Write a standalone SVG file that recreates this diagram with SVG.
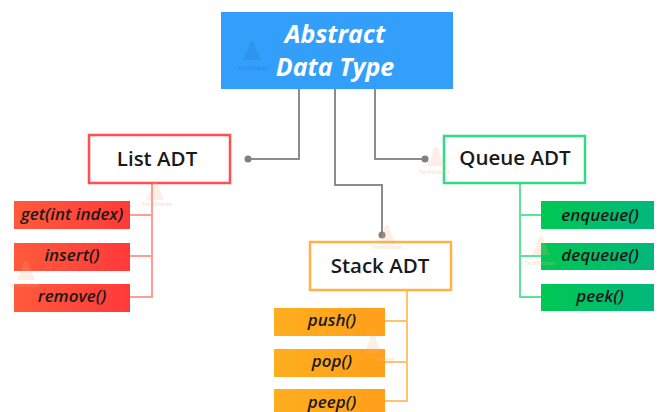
<svg xmlns="http://www.w3.org/2000/svg" width="659" height="412" viewBox="0 0 659 412">
<style>
text{font-family:"Open Sans","Noto Sans","Liberation Sans",sans-serif;text-anchor:middle}
.t{font-size:20.5px;font-weight:600;fill:#1a1a1a}
.m{font-size:17px;font-weight:600;font-style:italic;fill:#1a1a1a}
.h{font-size:25px;font-weight:700;font-style:italic;fill:#fff}
.w{font-size:5.5px;font-weight:600;fill:#f5b183;opacity:.4}
.i{fill:#f5b183;opacity:.2}
.b{fill:#fff;stroke-width:2.5}
.g{fill:none;stroke:#8c8c8c;stroke-width:2}
.l{fill:none;stroke-width:2}
</style>
<defs>
<linearGradient id="r"><stop offset="0" stop-color="#ff5a3c"/><stop offset="1" stop-color="#ff3a3a"/></linearGradient>
<linearGradient id="o"><stop offset="0" stop-color="#ffae1f"/><stop offset="1" stop-color="#ff9f1a"/></linearGradient>
<linearGradient id="v"><stop offset="0" stop-color="#00c853"/><stop offset="1" stop-color="#00b87c"/></linearGradient>
<path id="mark" d="M0 -11C3 -11 3 -6 4 -3L9 8H-9L-4 -3C-3 -6 -3 -11 0 -11Z"/>
</defs>
<g id="connectors">
<path class="g" d="M299 89V159H248"/><circle cx="248" cy="159" r="3.5" fill="#808080"/>
<path class="g" d="M335 89V185H382V235"/><circle cx="382" cy="235" r="3.5" fill="#808080"/>
<path class="g" d="M375 89V159H425"/><circle cx="425" cy="159" r="3.5" fill="#808080"/>
<path class="l" stroke="#ff9c94" d="M152 183V297H130M152 215H130M152 256H130"/>
<path class="l" stroke="#ffc36e" d="M407 290V401H385M407 321H385M407 362H385"/>
<path class="l" stroke="#5fe39b" d="M520 183V297H541M520 215H541M520 256H541"/>
</g>
<g id="abstract-data-type">
<rect x="221" y="12" width="232" height="77" fill="#339ffb"/>
<text class="h" x="335" y="43">Abstract</text>
<text class="h" x="335" y="76">Data Type</text>
</g>
<g id="list-adt">
<rect class="b" x="89" y="135" width="141" height="48" stroke="#ff5050"/>
<text class="t" x="157" y="166">List ADT</text>
</g>
<g id="stack-adt">
<rect class="b" x="310" y="242" width="141" height="48" stroke="#ffb347"/>
<text class="t" x="380" y="273">Stack ADT</text>
</g>
<g id="queue-adt">
<rect class="b" x="444" y="136" width="141" height="47" stroke="#2fdc85"/>
<text class="t" x="515" y="165">Queue ADT</text>
</g>
<g id="get"><rect x="14" y="201" width="116" height="28" fill="url(#r)"/><text class="m" x="72" y="220">get(int index)</text></g>
<g id="insert"><rect x="14" y="243" width="116" height="28" fill="url(#r)"/><text class="m" x="72" y="261">insert()</text></g>
<g id="remove"><rect x="14" y="284" width="116" height="28" fill="url(#r)"/><text class="m" x="72" y="302">remove()</text></g>
<g id="push"><rect x="274" y="308" width="111" height="28" fill="url(#o)"/><text class="m" x="332" y="326">push()</text></g>
<g id="pop"><rect x="274" y="349" width="111" height="28" fill="url(#o)"/><text class="m" x="332" y="367">pop()</text></g>
<g id="peep"><rect x="274" y="389" width="111" height="28" fill="url(#o)"/><text class="m" x="332" y="408">peep()</text></g>
<g id="enqueue"><rect x="541" y="201" width="113" height="28" fill="url(#v)"/><text class="m" x="600" y="221">enqueue()</text></g>
<g id="dequeue"><rect x="541" y="243" width="113" height="27" fill="url(#v)"/><text class="m" x="600" y="261">dequeue()</text></g>
<g id="peek"><rect x="541" y="284" width="113" height="27" fill="url(#v)"/><text class="m" x="600" y="302">peek()</text></g>
<g id="watermarks">
<use href="#mark" class="i" x="155" y="192"/><text class="w" x="157" y="206">TechVidvan</text>
<use href="#mark" class="i" x="252" y="52" style="fill:#1f6fb8"/><text class="w" x="253" y="70" style="fill:#1f6fb8">TechVidvan</text>
<use href="#mark" class="i" x="436" y="158"/><text class="w" x="434" y="174">TechVidvan</text>
<use href="#mark" class="i" x="387" y="236"/><text class="w" x="387" y="249">TechVidvan</text>
<use href="#mark" class="i" x="373" y="345"/><text class="w" x="386" y="361">Vidvan</text>
<use href="#mark" class="i" x="541" y="247"/><text class="w" x="540" y="265">TechVidvan</text>
<use href="#mark" class="i" x="26" y="272"/><text class="w" x="24" y="287">TechVidvan</text>
</g>
</svg>
